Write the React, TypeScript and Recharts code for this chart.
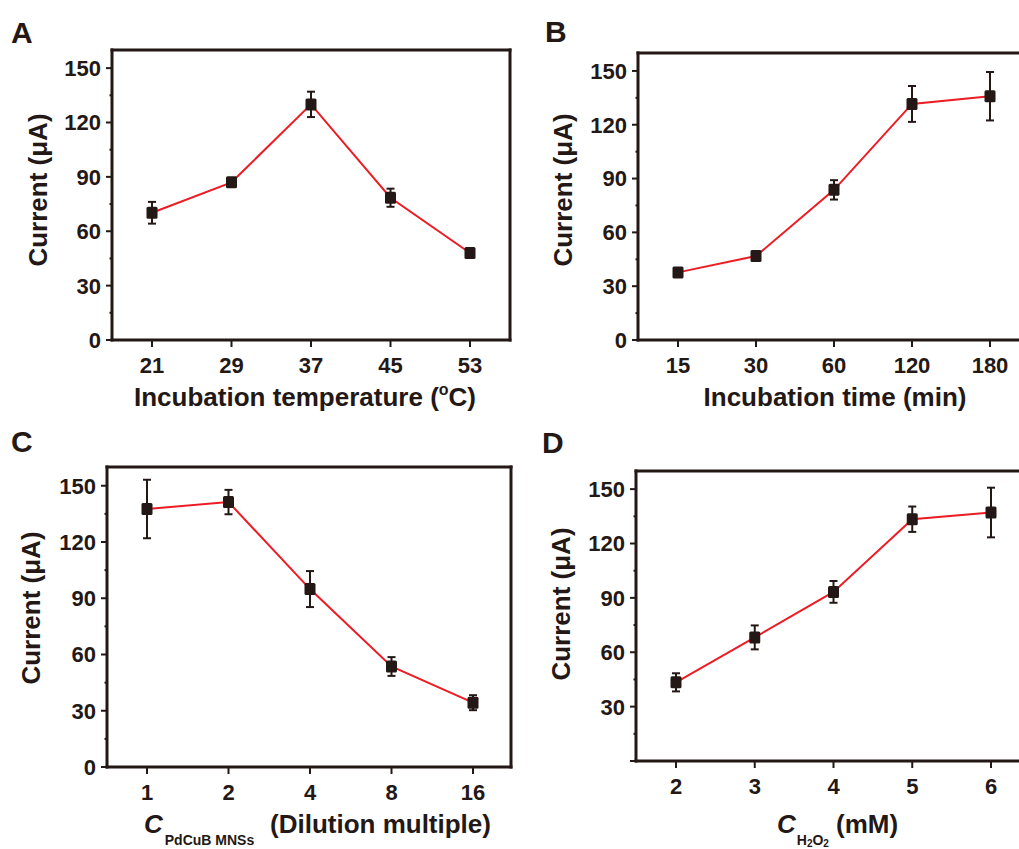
import { LineChart, Line, XAxis, YAxis, ErrorBar } from "recharts";

const tempCats = ["21", "29", "37", "45", "53"];
const tempCurrent = [70.2, 87, 130, 78.5, 48];
const tempErr = [6, 2, 7, 5, 2];

const timeCats = ["15", "30", "60", "120", "180"];
const timeCurrent = [37.7, 46.8, 83.7, 131.6, 135.9];
const timeErr = [2, 2, 5.4, 10, 13.5];

const dilCats = ["1", "2", "4", "8", "16"];
const dilCurrent = [137.6, 141.3, 94.9, 53.6, 34.3];
const dilErr = [15.6, 6.5, 9.6, 5, 4];

const h2o2Cats = ["2", "3", "4", "5", "6"];
const h2o2Current = [43.4, 68.2, 93.3, 133.4, 137.1];
const h2o2Err = [5, 6.6, 6, 7, 13.7];

const yTicks = [0, 15, 30, 45, 60, 75, 90, 105, 120, 135, 150];

const INK = "#231815";
const RED = "#ed1c24";
const FONT = "'Liberation Sans', Arial, sans-serif";

function SquareDot(props: any) {
  const { cx, cy, index } = props;
  return (
    <rect
      key={"dot-" + index}
      x={cx - 5.5}
      y={cy - 6}
      width={11}
      height={12}
      rx={1.5}
      fill={INK}
    />
  );
}

function YTick(props: any) {
  const { x, y, payload, showZero } = props;
  const v = payload.value;
  const major = v % 30 === 0;
  const showLabel = major && (v !== 0 || showZero);
  return (
    <g>
      <line x1={x - (major ? 6 : 2.5)} x2={x} y1={y} y2={y} stroke={INK} strokeWidth={2} />
      {showLabel && (
        <text
          x={x - 11}
          y={y}
          dy="0.36em"
          textAnchor="end"
          fontFamily={FONT}
          fontWeight="bold"
          fontSize={22}
          fill={INK}
        >
          {v}
        </text>
      )}
    </g>
  );
}

interface PanelProps {
  left: number;
  top: number;
  w: number;
  h: number;
  cats: string[];
  values: number[];
  errs: number[];
  padRight?: number;
  showZero?: boolean;
}

function Panel(p: PanelProps) {
  const data = p.cats.map((c, i) => ({ cat: c, current: p.values[i], err: p.errs[i] }));
  const frame = { stroke: INK, strokeWidth: 3, strokeLinecap: "square" as const };
  return (
    <div style={{ position: "absolute", left: p.left - 100, top: p.top - 20 }}>
      <LineChart
        width={p.w + 120}
        height={p.h + 70}
        data={data}
        margin={{ top: 19, right: 19, bottom: 0, left: 0 }}
      >
        <XAxis
          dataKey="cat"
          scale="point"
          padding={{ left: 40, right: p.padRight ?? 40 }}
          height={50}
          interval={0}
          axisLine={frame}
          tickLine={{ stroke: INK, strokeWidth: 2 }}
          tickSize={7}
          tickMargin={10}
          tick={{ fill: INK, fontFamily: FONT, fontWeight: "bold", fontSize: 22 }}
        />
        <XAxis
          xAxisId="top"
          orientation="top"
          dataKey="cat"
          scale="point"
          height={1}
          tick={false}
          tickLine={false}
          axisLine={frame}
        />
        <YAxis
          type="number"
          domain={[0, 160]}
          ticks={yTicks}
          interval={0}
          width={100}
          tickSize={0}
          tickMargin={0}
          tickLine={false}
          axisLine={frame}
          tick={(props: any) => <YTick {...props} showZero={p.showZero !== false} />}
        />
        <YAxis
          yAxisId="right"
          orientation="right"
          type="number"
          domain={[0, 160]}
          ticks={[0, 160]}
          width={1}
          tick={false}
          tickLine={false}
          axisLine={frame}
        />
        <Line
          type="linear"
          dataKey="current"
          stroke={RED}
          strokeWidth={2}
          dot={SquareDot}
          activeDot={false}
          isAnimationActive={false}
        >
          <ErrorBar
            dataKey="err"
            direction="y"
            width={4}
            strokeWidth={2}
            stroke={INK}
            isAnimationActive={false}
          />
        </Line>
      </LineChart>
    </div>
  );
}

const textStyle = { fontFamily: FONT, fontWeight: "bold" as const, fill: INK };

export default function App() {
  return (
    <div
      style={{
        position: "absolute",
        left: 0,
        top: 0,
        width: 1019,
        height: 849,
        overflow: "hidden",
        background: "#fff",
      }}
    >
      <Panel left={112} top={50} w={398} h={290} cats={tempCats} values={tempCurrent} errs={tempErr} />
      <Panel left={638} top={53} w={392} h={287} cats={timeCats} values={timeCurrent} errs={timeErr} />
      <Panel
        left={107}
        top={467}
        w={404}
        h={300}
        cats={dilCats}
        values={dilCurrent}
        errs={dilErr}
        padRight={38}
      />
      <Panel
        left={636}
        top={471}
        w={395}
        h={290}
        cats={h2o2Cats}
        values={h2o2Current}
        errs={h2o2Err}
        showZero={false}
      />
      <svg
        width={1019}
        height={849}
        style={{ position: "absolute", left: 0, top: 0, pointerEvents: "none" }}
      >
        <g {...textStyle} fontSize={30}>
          <text x={11} y={43}>A</text>
          <text x={545} y={42}>B</text>
          <text x={11} y={452}>C</text>
          <text x={542} y={453}>D</text>
        </g>
        <g {...textStyle} fontSize={26} textAnchor="middle">
          <text x={38} y={190} dy="0.36em" transform="rotate(-90 38 190)">Current (μA)</text>
          <text x={563} y={190} dy="0.36em" transform="rotate(-90 563 190)">Current (μA)</text>
          <text x={31} y={608} dy="0.36em" transform="rotate(-90 31 608)">Current (μA)</text>
          <text x={561} y={604} dy="0.36em" transform="rotate(-90 561 604)">Current (μA)</text>
          <text x={305} y={406}>
            Incubation temperature (
            <tspan fontSize={16} dy={-11}>o</tspan>
            <tspan dy={11}>C)</tspan>
          </text>
          <text x={835} y={406}>Incubation time (min)</text>
        </g>
        <g {...textStyle} fontSize={26}>
          <text x={144} y={833}>
            <tspan fontStyle="italic">C</tspan>
            <tspan fontSize={14} dx={2} dy={12}>PdCuB MNSs</tspan>
            <tspan x={270} dy={-12}>(Dilution multiple)</tspan>
          </text>
          <text x={777} y={833}>
            <tspan fontStyle="italic">C</tspan>
            <tspan fontSize={14} dx={1} dy={12}>H</tspan>
            <tspan fontSize={10} dy={2}>2</tspan>
            <tspan fontSize={14} dy={-2}>O</tspan>
            <tspan fontSize={10} dy={2}>2</tspan>
            <tspan x={836} dy={-14}>(mM)</tspan>
          </text>
        </g>
      </svg>
    </div>
  );
}
